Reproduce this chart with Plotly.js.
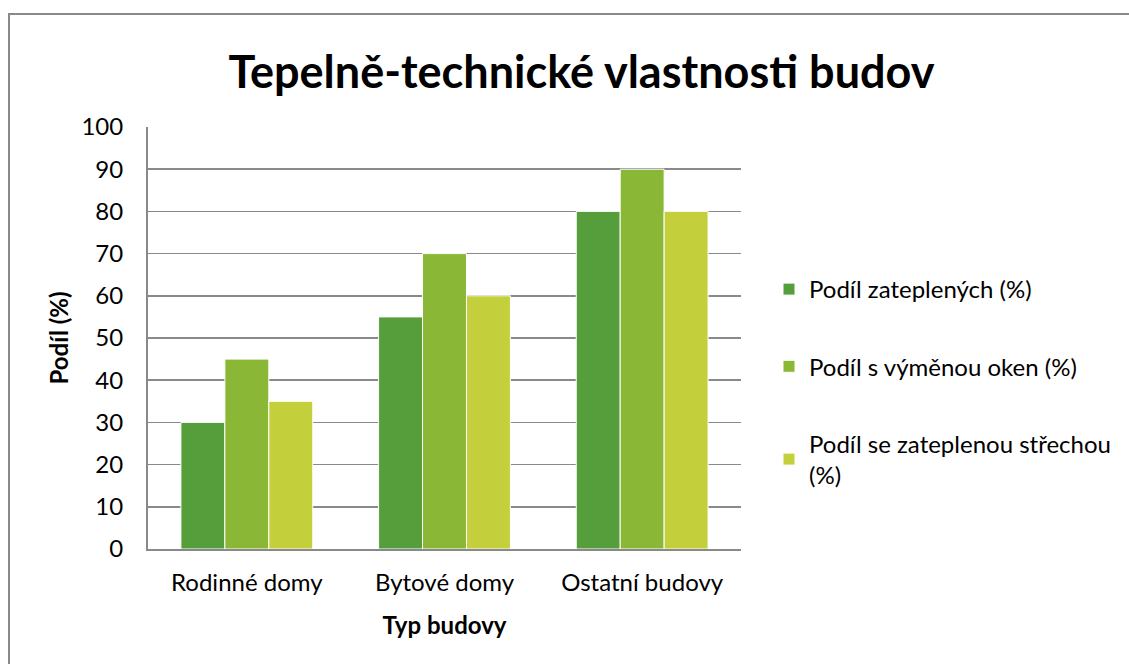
<!DOCTYPE html>
<html><head><meta charset="utf-8">
<script src="https://cdn.plot.ly/plotly-3.0.1.min.js"></script>
<style>html,body{margin:0;padding:0;background:#fff;}#chart{width:1129px;height:664px;}</style>
</head><body><div id="chart"></div>
<script>
const categories = ["Rodinné domy", "Bytové domy", "Ostatní budovy"];
const seriesNames = ["Podíl zateplených (%)", "Podíl s výměnou oken (%)", "Podíl se zateplenou střechou<br>(%)"];
const insulated = [30, 55, 80];
const windows = [45, 70, 90];
const roof = [35, 60, 80];
const yTicks = [0,10,20,30,40,50,60,70,80,90,100];

const colors = ["#559E3B", "#8BB737", "#C3D03C"];
const values = [insulated, windows, roof];
const font = "Lato, 'Open Sans', sans-serif";

const traces = values.map((v, i) => ({
  type: "bar", x: categories, y: v, name: seriesNames[i],
  legendgroup: "g" + i,
  marker: {color: colors[i], line: {color: "#ffffff", width: 1}},
  hoverinfo: "x+y"
}));

const L = 148, R = 741, T = 127, B = 549, W = 1129, H = 664;
const pw = R - L, ph = B - T;

const layout = {
  width: W, height: H,
  margin: {l: L, r: W - R, t: T, b: H - B, pad: 0, autoexpand: false},
  paper_bgcolor: "#ffffff", plot_bgcolor: "#ffffff",
  font: {family: font, color: "#000000", size: 24},
  title: {text: "<b>Tepelně-technické vlastnosti budov</b>", x: 0.515, xanchor: "center", y: 1 - 72/H, yanchor: "middle",
          font: {family: font, size: 45, color: "#000000"}},
  barmode: "group", bargap: 0.333, bargroupgap: 0,
  xaxis: {
    showgrid: false, showline: true, linecolor: "#898989", linewidth: 2,
    ticks: "", ticklabelstandoff: 11, tickfont: {size: 24},
    title: {text: "<b>Typ budovy</b>", font: {size: 24}, standoff: 22}
  },
  yaxis: {
    range: [0, 100], tickvals: yTicks, showgrid: true, gridcolor: "#898989", gridwidth: 1.5,
    showline: true, linecolor: "#898989", linewidth: 2, zeroline: false,
    ticks: "", ticklabelstandoff: 18, tickfont: {size: 24},
    title: {text: "<b>Podíl (%)</b>", font: {size: 24}, standoff: 6}
  },
  legend: {xref: "container", yref: "container", x: 769/W, xanchor: "left", y: 1 - 267/H, yanchor: "top",
           font: {size: 24}, tracegroupgap: 43, itemwidth: 30, bgcolor: "rgba(0,0,0,0)"},
  shapes: [{type: "rect", xref: "paper", yref: "paper",
            x0: (9 - L)/pw, x1: (1200 - L)/pw, y0: (B - 700)/ph, y1: (B - 14)/ph,
            line: {color: "#898989", width: 2}, layer: "below"}],
  showlegend: true
};

Plotly.newPlot("chart", traces, layout, {displayModeBar: false, staticPlot: true});
</script></body></html>
